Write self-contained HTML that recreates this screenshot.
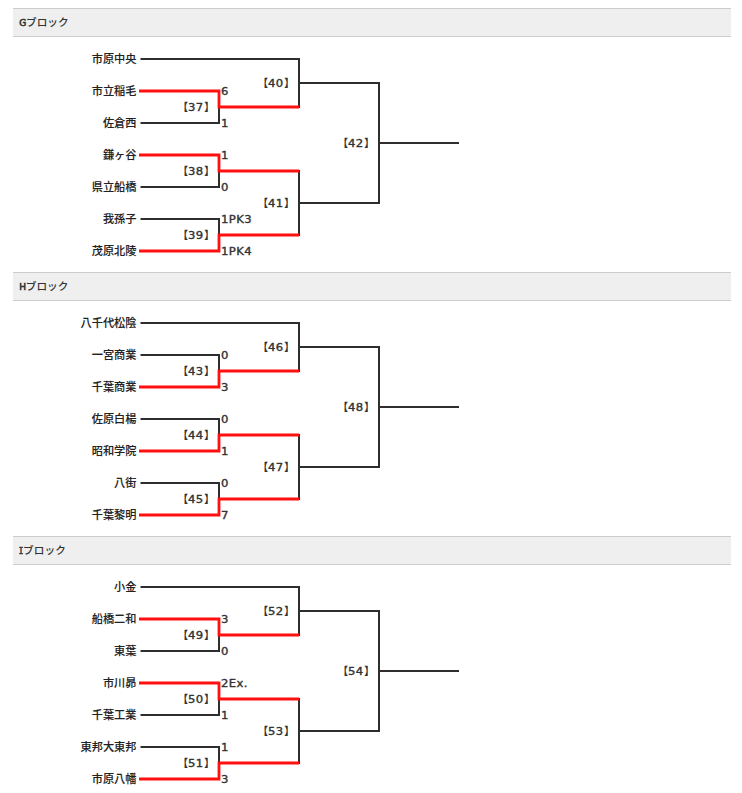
<!DOCTYPE html>
<html lang="ja"><head><meta charset="utf-8"><title>トーナメント</title>
<style>
html,body{margin:0;padding:0;background:#fff}
body{width:742px;height:793px;position:relative;overflow:hidden;
font-family:"DejaVu Sans","Liberation Sans","Noto Sans CJK JP",sans-serif;font-size:11px;font-weight:bold;color:#333}
svg{position:absolute;left:0;top:0}
.hd{position:absolute;left:13px;width:712px;height:27px;line-height:27px;padding-left:6px;font-weight:500;background:#efefef;border-top:1px solid #ccc;border-bottom:1px solid #ccc;font-size:10.7px}
.tm{font-weight:500;font-size:11.2px;color:#222;-webkit-text-stroke:0.1px #222;position:absolute;left:0;width:136.5px;text-align:right;height:20px;line-height:20px;white-space:nowrap}
i{font-style:normal;font-weight:normal;-webkit-text-stroke:0.35px #333;font-size:10px;letter-spacing:0.35px;display:inline-block;transform:scaleX(1.16);transform-origin:50% 50%;margin:0 1.15px}
.hd i{-webkit-text-stroke:0.6px #333;font-size:9.5px;margin:0 -0.4px;transform:scaleX(0.95)}
.hd i.m{font-family:"DejaVu Sans Mono","Liberation Mono",monospace;transform:scaleX(0.78);margin:0 -1.0px}
.sc{font-weight:normal;-webkit-text-stroke:0.35px #333;font-size:10px;letter-spacing:0.35px;transform:scaleX(1.16);transform-origin:0 50%;position:absolute;height:20px;line-height:20px;white-space:nowrap}
.no{font-weight:500;position:absolute;width:60px;text-align:right;height:20px;line-height:20px;white-space:nowrap}
</style></head><body>
<svg width="742" height="793" viewBox="0 0 742 793">
<g fill="#2e2e2e">
<rect x="140.5" y="58" width="159.5" height="2"/>
<rect x="140.5" y="122" width="79.5" height="2"/>
<rect x="218" y="107" width="2" height="17"/>
<rect x="140.5" y="186" width="79.5" height="2"/>
<rect x="218" y="171" width="2" height="17"/>
<rect x="140.5" y="218" width="79.5" height="2"/>
<rect x="218" y="218" width="2" height="17"/>
<rect x="298" y="58" width="2" height="50"/>
<rect x="298" y="170" width="2" height="66"/>
<rect x="299" y="82" width="81" height="2"/>
<rect x="299" y="202" width="81" height="2"/>
<rect x="378" y="82" width="2" height="122"/>
<rect x="379" y="142" width="80" height="2"/>
<rect x="140.5" y="322" width="159.5" height="2"/>
<rect x="140.5" y="354" width="79.5" height="2"/>
<rect x="218" y="354" width="2" height="17"/>
<rect x="140.5" y="418" width="79.5" height="2"/>
<rect x="218" y="418" width="2" height="17"/>
<rect x="140.5" y="482" width="79.5" height="2"/>
<rect x="218" y="482" width="2" height="17"/>
<rect x="298" y="322" width="2" height="50"/>
<rect x="298" y="434" width="2" height="66"/>
<rect x="299" y="346" width="81" height="2"/>
<rect x="299" y="466" width="81" height="2"/>
<rect x="378" y="346" width="2" height="122"/>
<rect x="379" y="406" width="80" height="2"/>
<rect x="140.5" y="586" width="159.5" height="2"/>
<rect x="140.5" y="650" width="79.5" height="2"/>
<rect x="218" y="635" width="2" height="17"/>
<rect x="140.5" y="714" width="79.5" height="2"/>
<rect x="218" y="699" width="2" height="17"/>
<rect x="140.5" y="746" width="79.5" height="2"/>
<rect x="218" y="746" width="2" height="17"/>
<rect x="298" y="586" width="2" height="50"/>
<rect x="298" y="698" width="2" height="66"/>
<rect x="299" y="610" width="81" height="2"/>
<rect x="299" y="730" width="81" height="2"/>
<rect x="378" y="610" width="2" height="122"/>
<rect x="379" y="670" width="80" height="2"/>
</g>
<g fill="none" stroke="#ff0f0f" stroke-width="2.8" stroke-linejoin="miter">
<path d="M139 91H219V107H299"/>
<path d="M139 155H219V171H299"/>
<path d="M139 251H219V235H299"/>
<path d="M139 387H219V371H299"/>
<path d="M139 451H219V435H299"/>
<path d="M139 515H219V499H299"/>
<path d="M139 619H219V635H299"/>
<path d="M139 683H219V699H299"/>
<path d="M139 779H219V763H299"/>
</g>
</svg>
<div class="hd" style="top:8px"><i>G</i>ブロック</div>
<div class="tm" style="top:50px">市原中央</div>
<div class="tm" style="top:82px">市立稲毛</div>
<div class="tm" style="top:114px">佐倉西</div>
<div class="tm" style="top:146px">鎌ヶ谷</div>
<div class="tm" style="top:178px">県立船橋</div>
<div class="tm" style="top:210px">我孫子</div>
<div class="tm" style="top:242px">茂原北陵</div>
<div class="sc" style="left:221.3px;top:81.6px">6</div>
<div class="sc" style="left:221.3px;top:113.6px">1</div>
<div class="no" style="left:155px;top:98px">【<i>37</i>】</div>
<div class="sc" style="left:221.3px;top:145.6px">1</div>
<div class="sc" style="left:221.3px;top:177.6px">0</div>
<div class="no" style="left:155px;top:162px">【<i>38</i>】</div>
<div class="sc" style="left:221.3px;top:209.6px">1PK3</div>
<div class="sc" style="left:221.3px;top:241.6px">1PK4</div>
<div class="no" style="left:155px;top:226px">【<i>39</i>】</div>
<div class="no" style="left:235px;top:74px">【<i>40</i>】</div>
<div class="no" style="left:235px;top:194px">【<i>41</i>】</div>
<div class="no" style="left:315px;top:134px">【<i>42</i>】</div>
<div class="hd" style="top:272px"><i>H</i>ブロック</div>
<div class="tm" style="top:314px">八千代松陰</div>
<div class="tm" style="top:346px">一宮商業</div>
<div class="tm" style="top:378px">千葉商業</div>
<div class="tm" style="top:410px">佐原白楊</div>
<div class="tm" style="top:442px">昭和学院</div>
<div class="tm" style="top:474px">八街</div>
<div class="tm" style="top:506px">千葉黎明</div>
<div class="sc" style="left:221.3px;top:345.6px">0</div>
<div class="sc" style="left:221.3px;top:377.6px">3</div>
<div class="no" style="left:155px;top:362px">【<i>43</i>】</div>
<div class="sc" style="left:221.3px;top:409.6px">0</div>
<div class="sc" style="left:221.3px;top:441.6px">1</div>
<div class="no" style="left:155px;top:426px">【<i>44</i>】</div>
<div class="sc" style="left:221.3px;top:473.6px">0</div>
<div class="sc" style="left:221.3px;top:505.6px">7</div>
<div class="no" style="left:155px;top:490px">【<i>45</i>】</div>
<div class="no" style="left:235px;top:338px">【<i>46</i>】</div>
<div class="no" style="left:235px;top:458px">【<i>47</i>】</div>
<div class="no" style="left:315px;top:398px">【<i>48</i>】</div>
<div class="hd" style="top:536px"><i class="m">I</i>ブロック</div>
<div class="tm" style="top:578px">小金</div>
<div class="tm" style="top:610px">船橋二和</div>
<div class="tm" style="top:642px">東葉</div>
<div class="tm" style="top:674px">市川昴</div>
<div class="tm" style="top:706px">千葉工業</div>
<div class="tm" style="top:738px">東邦大東邦</div>
<div class="tm" style="top:770px">市原八幡</div>
<div class="sc" style="left:221.3px;top:609.6px">3</div>
<div class="sc" style="left:221.3px;top:641.6px">0</div>
<div class="no" style="left:155px;top:626px">【<i>49</i>】</div>
<div class="sc" style="left:221.3px;top:673.6px">2Ex.</div>
<div class="sc" style="left:221.3px;top:705.6px">1</div>
<div class="no" style="left:155px;top:690px">【<i>50</i>】</div>
<div class="sc" style="left:221.3px;top:737.6px">1</div>
<div class="sc" style="left:221.3px;top:769.6px">3</div>
<div class="no" style="left:155px;top:754px">【<i>51</i>】</div>
<div class="no" style="left:235px;top:602px">【<i>52</i>】</div>
<div class="no" style="left:235px;top:722px">【<i>53</i>】</div>
<div class="no" style="left:315px;top:662px">【<i>54</i>】</div>
</body></html>
